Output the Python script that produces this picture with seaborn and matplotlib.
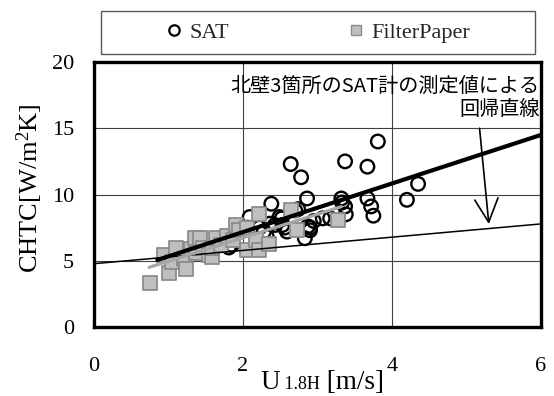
import numpy as np
import matplotlib
matplotlib.use("Agg")
import matplotlib.pyplot as plt
import seaborn as sns
from matplotlib.patches import Rectangle
from matplotlib.lines import Line2D

# ---- data ----
sat_u = [1.81, 1.85, 2.06, 2.09, 2.22, 2.28, 2.36, 2.38, 2.32, 2.43, 2.49, 2.52,
         2.53, 2.56, 2.59, 2.64, 2.70, 2.74, 2.78, 2.83, 2.86, 2.87, 2.90, 2.90,
         2.95, 3.07, 3.17, 3.32, 3.33, 3.37, 3.38, 3.37, 3.67, 3.67, 3.72, 3.75,
         3.81, 4.20, 4.35]
sat_chtc = [6.0, 6.2, 7.5, 8.3, 7.5, 7.2, 7.8, 9.3, 6.8, 7.7, 8.3, 8.2,
            7.7, 7.5, 7.2, 12.3, 8.8, 8.9, 11.3, 6.7, 9.7, 7.6, 7.5, 7.3,
            8.0, 8.2, 8.2, 9.7, 9.4, 9.1, 8.5, 12.5, 12.1, 9.7, 9.1, 8.4,
            14.0, 9.6, 10.8]

fp_u = [0.75, 0.94, 1.00, 1.05, 1.10, 1.21, 1.24, 1.30, 1.35, 1.42, 1.37, 1.46,
        1.55, 1.58, 1.59, 1.64, 1.70, 1.78, 1.86, 1.91, 1.95, 2.06, 2.06, 2.18,
        2.21, 2.21, 2.35, 2.64, 2.72, 3.27]
fp_chtc = [3.3, 5.4, 4.1, 4.9, 6.0, 5.1, 4.4, 5.9, 6.7, 6.7, 5.6, 6.0,
           5.4, 5.3, 6.0, 6.7, 6.2, 6.9, 6.6, 7.7, 7.3, 7.5, 5.8, 6.6,
           5.8, 8.5, 6.3, 8.8, 7.3, 8.1]

# regression lines: slope, intercept, x range
sat_fit_slope, sat_fit_intercept, sat_fit_x = 1.833, 3.50, [0.85, 6.0]
fp_fit_slope, fp_fit_intercept, fp_fit_x = 1.775, 3.19, [0.74, 3.32]
wall_fit_slope, wall_fit_intercept, wall_fit_x = 0.50, 4.78, [0.0, 6.0]

x_ticks = [0, 2, 4, 6]
y_ticks = [0, 5, 10, 15, 20]
legend_labels = ["SAT", "FilterPaper"]
y_label = "CHTC[W/m$^{2}$K]"
x_label_parts = ["U", " 1.8H", " [m/s]"]
note_text = "北壁3箇所のSAT計の測定値による\n回帰直線"

# ---- style ----
sns.set_theme(style="white")
plt.rcParams["font.family"] = ["Liberation Serif", "DejaVu Sans"]
plt.rcParams["mathtext.fontset"] = "custom"
plt.rcParams["mathtext.rm"] = "Liberation Serif"
plt.rcParams["mathtext.it"] = "Liberation Serif:italic"
plt.rcParams["mathtext.bf"] = "Liberation Serif:bold"

W, H = 554, 396
fig = plt.figure(figsize=(W / 100, H / 100), dpi=100)
ax = fig.add_axes([94 / W, 1 - 327 / H, (541 - 94) / W, (327 - 62) / H])

sns.scatterplot(x=sat_u, y=sat_chtc, ax=ax, marker="o", s=95,
                facecolors="none", edgecolor="black", linewidth=1.7, zorder=2)
sns.scatterplot(x=fp_u, y=fp_chtc, ax=ax, marker="s", s=95,
                color="#bfbfbf", edgecolor="#8c8c8c", linewidth=1.3, zorder=3)

for slope, icpt, xr, col, lw in [
    (wall_fit_slope, wall_fit_intercept, wall_fit_x, "black", 1.1),
    (fp_fit_slope, fp_fit_intercept, fp_fit_x, "#a6a6a6", 2.3),
    (sat_fit_slope, sat_fit_intercept, sat_fit_x, "black", 3.0),
]:
    xs = np.array(xr)
    sns.lineplot(x=xs, y=slope * xs + icpt, ax=ax, color=col, linewidth=lw,
                 zorder=4)

ax.set_xlim(x_ticks[0], x_ticks[-1])
ax.set_ylim(y_ticks[0], y_ticks[-1])
ax.set_xticks(x_ticks)
ax.set_yticks(y_ticks)
ax.grid(True, color="#404040", linewidth=0.8)
ax.set_axisbelow(True)
for sp in ax.spines.values():
    sp.set_visible(True)
    sp.set_color("black")
    sp.set_linewidth(2.4)
ax.tick_params(axis="both", direction="inout", length=13, width=2.4,
               color="black", labelsize=16, labelcolor="black")
ax.tick_params(axis="x", pad=15)
ax.tick_params(axis="y", pad=8)
ax.set_xlabel("")
ax.set_ylabel(y_label, fontsize=19, color="black")
ax.yaxis.set_label_coords(-0.11, 0.525)

# annotation
ax.text(5.98, 18.95, note_text, ha="right", va="top", fontsize=14.5,
        linespacing=1.15, family=["Noto Sans CJK JP", "DejaVu Sans"],
        color="black", zorder=6)
ax.annotate("", xy=(5.30, 7.77), xytext=(5.175, 15.0),
            arrowprops=dict(arrowstyle="->,head_length=1.4,head_width=0.7",
                            color="black", lw=1.2, shrinkA=0, shrinkB=0),
            zorder=6)

# legend (box drawn separately, like the reference)
fig.patches.append(Rectangle((101 / W, 1 - 54 / H), (535 - 101) / W, (54 - 11) / H,
                             transform=fig.transFigure, fill=False,
                             edgecolor="#595959", linewidth=1.0))
handles = [
    Line2D([], [], linestyle="none", marker="o", markersize=7.5,
           markerfacecolor="none", markeredgecolor="black", markeredgewidth=1.6),
    Line2D([], [], linestyle="none", marker="s", markersize=7.5,
           markerfacecolor="#bfbfbf", markeredgecolor="#8c8c8c",
           markeredgewidth=1.0),
]
fig.legend(handles, legend_labels, loc="center",
           bbox_to_anchor=(318 / W, 1 - 32.5 / H), ncol=2, frameon=False,
           fontsize=16, handlelength=0.8, handletextpad=0.3,
           columnspacing=5.3, borderaxespad=0)

# x label pieces
fig.canvas.draw()
r = fig.canvas.get_renderer()
sizes = [19.5, 13, 19.5]
texts = []
for s, fs in zip(x_label_parts, sizes):
    t = fig.text(0, 0, s, fontsize=fs, ha="left", va="baseline", color="black")
    texts.append(t)
widths = [t.get_window_extent(r).width for t in texts]
total = sum(widths)
start = 322 - total / 2
base_y = 1 - 389 / H
cur = start
for t, w in zip(texts, widths):
    t.set_position((cur / W, base_y))
    cur += w

fig.savefig("out.png", dpi=100)
